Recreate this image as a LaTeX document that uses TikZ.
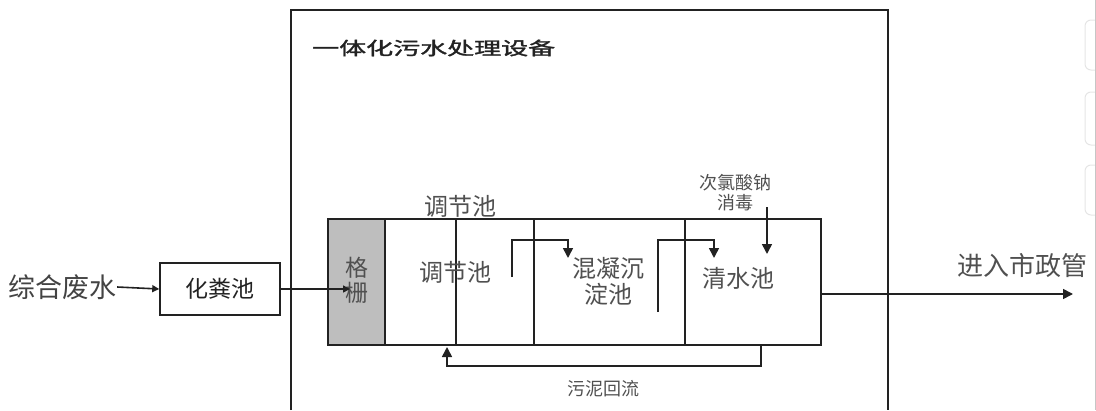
\documentclass[tikz,border=0pt]{standalone}
\usepackage{fontspec}
\setmainfont{Noto Sans CJK SC}
\newfontfamily\titlefont[FakeBold=1.5]{Noto Sans CJK SC}
\usetikzlibrary{arrows.meta}
\definecolor{ink}{HTML}{222222}
\definecolor{txt}{HTML}{505050}
\definecolor{grillefill}{HTML}{BEBEBE}
\tikzset{
  line/.style={draw=ink,line width=1.6pt},
  arr/.style={line,-{Triangle[length=10pt,width=10pt]}},
  smallarr/.style={line,-{Triangle[length=7pt,width=7pt]}},
  tank/.style={line,rectangle,minimum height=126pt,inner sep=0pt,anchor=north west},
  lbl/.style={text=txt,inner sep=0pt,align=center},
}
\newcommand{\fs}[1]{\fontsize{#1}{#1}\selectfont}
\begin{document}
\begin{tikzpicture}[x=1pt,y=-1pt]
\useasboundingbox (0,0) rectangle (1096,410);
% faint right-edge artifacts
\draw[gray!20,line width=1pt,rounded corners=6pt] (1085,20) rectangle (1110,70);
\draw[gray!20,line width=1pt,rounded corners=6pt] (1085,92) rectangle (1110,145);
\draw[gray!20,line width=1pt,rounded corners=6pt] (1085,165) rectangle (1110,215);
\draw[gray!45,line width=0.8pt] (1095,0) -- (1095,410);
% frame
\draw[line] (291,410) -- (291,10) -- (888,10) -- (888,410);
\node[anchor=west,inner sep=0pt,text=ink,font=\titlefont\fs{18}] (title) at (312,48) {\scalebox{1.5}[1]{一体化污水处理设备}};
% left side
\node[lbl,text=ink!85,font=\fs{27}] (src) at (63,287) {综合废水};
\node[line,rectangle,minimum width=120pt,minimum height=52pt,inner sep=0pt,text=ink,font=\fs{23}] (septic) at (220,289) {化粪池};
% tanks
\node[tank,fill=grillefill,minimum width=57pt] (grid) at (327,218) {};
\node[tank,minimum width=149pt] (tank1) at (384,218) {};
\node[tank,minimum width=151pt] (tank2) at (533,218) {};
\node[tank,minimum width=136pt] (tank3) at (684,218) {};
\draw[line] (456,218) -- (456,346);
% labels
\node[lbl,font=\fs{23}] (gridtxt) at (357,280) {格\\[2pt]栅};
\node[lbl,font=\fs{24}] (t1txt) at (455,272) {调节池};
\node[lbl,font=\fs{24}] (t1top) at (460,206) {调节池};
\node[lbl,font=\fs{24}] (t2txt) at (608,281) {混凝沉\\[2pt]淀池};
\node[lbl,font=\fs{24}] (t3txt) at (738,278) {清水池};
\node[lbl,font=\fs{18}] (dose) at (735,193) {次氯酸钠\\[2pt]消毒};
\node[lbl,font=\fs{18}] (ret) at (603,389) {污泥回流};
\node[lbl,anchor=west,font=\fs{26}] (outtxt) at (957,266) {进入市政管};
% coordinates
\coordinate (gin) at (350,289);
\coordinate (a1s) at (512,277);
\coordinate (a1e) at (568,258);
\coordinate (a2s) at (658,312);
\coordinate (a2e) at (714,258);
\coordinate (dstart) at (767,207);
\coordinate (dend) at (767,254);
\coordinate (out) at (1073,294);
\coordinate (rs) at (761,344);
\coordinate (re) at (447,347);
% connectors
\draw[smallarr] (src.east) -- (septic.west);
\draw[smallarr] (septic.east) -- (gin);
\draw[arr] (a1s) -- (a1s |- 0,240) -- (a1e |- 0,240) -- (a1e);
\draw[arr] (a2s) -- (a2s |- 0,240) -- (a2e |- 0,240) -- (a2e);
\draw[arr] (dstart) -- (dend);
\draw[arr] (tank3.east |- out) -- (out);
\draw[arr] (rs) -- (rs |- 0,366) -- (re |- 0,366) -- (re);
\end{tikzpicture}
\end{document}
